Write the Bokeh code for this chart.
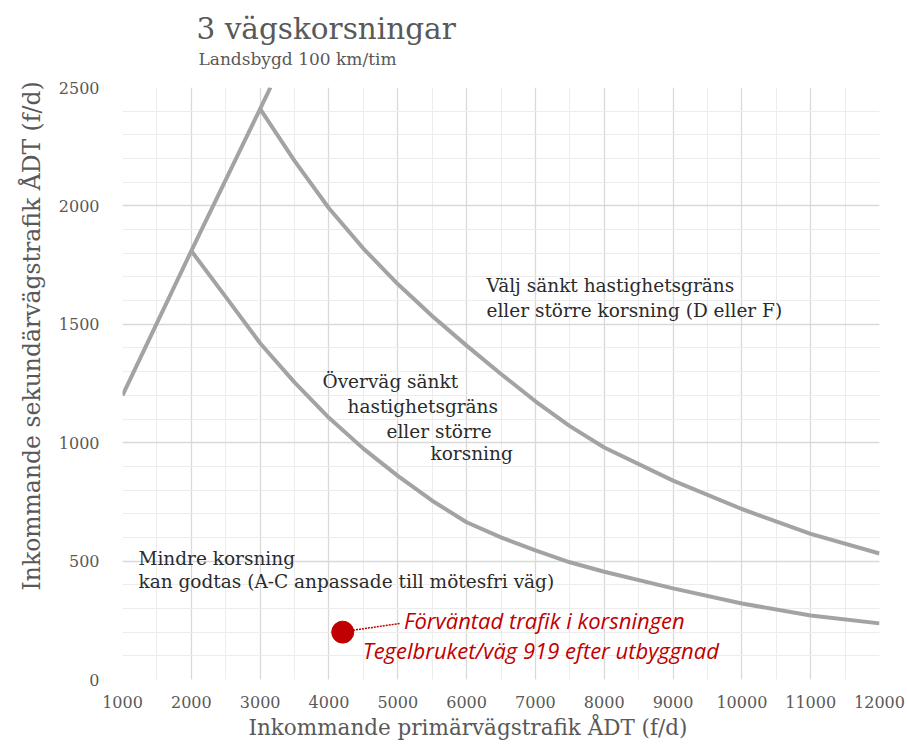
from bokeh.plotting import figure
from bokeh.models import Title, Label, FixedTicker, Range1d
from bokeh.embed import file_html
from bokeh.resources import INLINE

# ---- data ----
x_ticks = [1000, 2000, 3000, 4000, 5000, 6000, 7000, 8000, 9000, 10000, 11000, 12000]
y_ticks = [0, 500, 1000, 1500, 2000, 2500]

rise_x = [1000, 2000, 3000, 3150]
rise_y = [1200, 1810, 2410, 2500]

upper_x = [3000, 3500, 4000, 4500, 5000, 5500, 6000, 6500, 7000, 7500, 8000, 9000, 10000, 11000, 12000]
upper_y = [2410, 2190, 1990, 1820, 1670, 1535, 1410, 1290, 1175, 1070, 980, 840, 720, 615, 532]

lower_x = [2000, 2500, 3000, 3500, 4000, 4500, 5000, 5500, 6000, 6500, 7000, 7500, 8000, 9000, 10000, 11000, 12000]
lower_y = [1810, 1616, 1420, 1255, 1105, 975, 860, 755, 664, 600, 545, 495, 455, 385, 321, 270, 237]

point_x = [4200]
point_y = [200]

title_text = "3 vägskorsningar"
subtitle_text = "Landsbygd 100 km/tim"
x_label = "Inkommande primärvägstrafik ÅDT (f/d)"
y_label = "Inkommande sekundärvägstrafik ÅDT (f/d)"

SERIF = "DejaVu Serif"
GREY_TXT = "#595959"
DARK_TXT = "#2b2b2b"
CURVE = "#a3a3a3"
RED = "#c00000"

p = figure(width=908, height=744, output_backend="svg", toolbar_location=None,
           x_range=Range1d(1000, 12000), y_range=Range1d(0, 2500),
           min_border_left=122, min_border_right=29, min_border_top=87, min_border_bottom=65,
           background_fill_color="white", border_fill_color="white")
p.outline_line_color = None

# titles (subtitle added first so it sits closest to the frame)
p.add_layout(Title(text=subtitle_text, text_font=SERIF, text_font_size="17px",
                   text_font_style="normal", text_color=GREY_TXT, align="left",
                   offset=76, standoff=38), "above")
p.add_layout(Title(text=title_text, text_font=SERIF, text_font_size="29.5px",
                   text_font_style="normal", text_color=GREY_TXT, align="left",
                   offset=74, standoff=-36), "above")

# axis titles, shifted off-centre like the reference
p.add_layout(Title(text=y_label, text_font=SERIF, text_font_size="23.5px",
                   text_font_style="normal", text_color=GREY_TXT, align="left",
                   offset=89, standoff=20), "left")
p.add_layout(Title(text=x_label, text_font=SERIF, text_font_size="21.5px",
                   text_font_style="normal", text_color=GREY_TXT, align="left",
                   offset=126, standoff=5), "below")

# axes
p.xaxis.ticker = FixedTicker(ticks=x_ticks, minor_ticks=list(range(1000, 12001, 500)))
p.yaxis.ticker = FixedTicker(ticks=y_ticks, minor_ticks=list(range(0, 2501, 100)))
p.xaxis.major_label_overrides = {t: str(t) for t in x_ticks}
p.yaxis.major_label_overrides = {t: str(t) for t in y_ticks}
for ax in (p.xaxis, p.yaxis):
    ax.axis_line_color = None
    ax.major_tick_line_color = None
    ax.minor_tick_line_color = None
    ax.major_tick_out = 0
    ax.major_tick_in = 0
    ax.major_label_text_font = SERIF
    ax.major_label_text_font_size = "16px"
    ax.major_label_text_color = GREY_TXT
p.xaxis.major_label_standoff = 12
p.yaxis.major_label_standoff = 19

# grid
p.xgrid.grid_line_color = "#d9d9d9"
p.ygrid.grid_line_color = "#d9d9d9"
p.xgrid.minor_grid_line_color = "#ececec"
p.ygrid.minor_grid_line_color = "#ececec"
p.xgrid.grid_line_width = 1.3
p.ygrid.grid_line_width = 1.3

# curves
p.line(rise_x, rise_y, line_color=CURVE, line_width=4)
p.line(upper_x, upper_y, line_color=CURVE, line_width=4)
p.line(lower_x, lower_y, line_color=CURVE, line_width=4)

# expected traffic point with dotted leader
p.segment(x0=[point_x[0] + 150], y0=[point_y[0] + 8], x1=[5040], y1=[237],
          line_color=RED, line_width=1.5, line_dash="2 1")
p.scatter(point_x, point_y, size=22, marker="circle", fill_color=RED, line_color=RED)

def lab(x, y, t, color=DARK_TXT, font=SERIF, size="18.5px", style="normal"):
    p.add_layout(Label(x=x, y=y, text=t, text_font=font, text_font_size=size,
                       text_font_style=style, text_color=color,
                       text_align="left", text_baseline="alphabetic"))

lab(6289, 1665, "Välj sänkt hastighetsgräns")
lab(6289, 1560, "eller större korsning (D eller F)")
lab(3906, 1260, "Överväg sänkt")
lab(4269, 1154, "hastighetsgräns")
lab(4836, 1048, "eller  större")
lab(5475, 955, "korsning")
lab(1232, 512, "Mindre korsning")
lab(1232, 415, "kan godtas (A-C anpassade till mötesfri väg)")
lab(5090, 250, "Förväntad trafik i korsningen", color=RED, font="Open Sans", size="22px", style="italic")
lab(4490, 123, "Tegelbruket/väg 919 efter utbyggnad", color=RED, font="Open Sans", size="22px", style="italic")

open("out.html", "w").write(file_html(p, INLINE))
